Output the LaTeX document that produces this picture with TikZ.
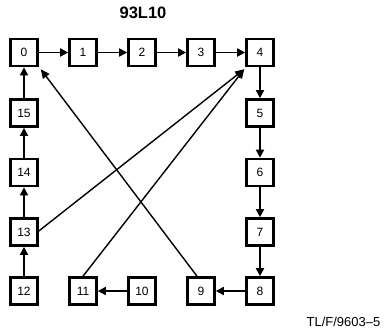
\documentclass[tikz,border=0pt]{standalone}
\usepackage{fontspec}
\setmainfont{Liberation Sans}
\usetikzlibrary{arrows.meta,calc}
\tikzset{
  box/.style={draw,line width=2.6pt,minimum size=27pt,inner sep=0pt,font=\fontsize{12}{12}\selectfont},
  arr/.style={line width=1.7pt,-{Triangle[length=8pt,width=8pt]}},
  darr/.style={line width=1.4pt,-{Triangle[length=9pt,width=8pt]}},
}
\begin{document}
\begin{tikzpicture}[x=1pt,y=-1pt]
\useasboundingbox (0,0) rectangle (389,331);
\node[font=\bfseries\fontsize{16.5}{16.5}\selectfont] (title) at (143,13) {93L10};
\node[font=\fontsize{13}{13}\selectfont] (cap) at (343.5,321.5) {TL/F/9603--5};
\node[box] (n0) at (24,52.5) {0};
\node[box] (n1) at (83,52.5) {1};
\node[box] (n2) at (142,52.5) {2};
\node[box] (n3) at (201,52.5) {3};
\node[box] (n4) at (260,52.5) {4};
\node[box] (n5) at (260,113) {5};
\node[box] (n6) at (260,172.5) {6};
\node[box] (n7) at (260,232) {7};
\node[box] (n8) at (260,291) {8};
\node[box] (n9) at (201,291) {9};
\node[box] (n10) at (142,291) {10};
\node[box] (n11) at (83,291) {11};
\node[box] (n12) at (24,291) {12};
\node[box] (n13) at (24,232) {13};
\node[box] (n14) at (24,172.5) {14};
\node[box] (n15) at (24,113) {15};
\draw[arr] (n0) -- (n1);
\draw[arr] (n1) -- (n2);
\draw[arr] (n2) -- (n3);
\draw[arr] (n3) -- (n4);
\draw[arr] (n4) -- (n5);
\draw[arr] (n5) -- (n6);
\draw[arr] (n6) -- (n7);
\draw[arr] (n7) -- (n8);
\draw[arr] (n8) -- (n9);
\draw[arr] (n10) -- (n11);
\draw[arr] (n12) -- (n13);
\draw[arr] (n13) -- (n14);
\draw[arr] (n14) -- (n15);
\draw[arr] (n15) -- (n0);
\coordinate (t0) at ($(n0.south east)+(2,2)$);
\coordinate (t4) at ($(n4.south west)+(-1,2)$);
\draw[darr] ($(n9.north)+(-4,0)$) -- (t0);
\draw[darr] ($(n13.east)+(0,-1)$) -- (t4);
\draw[darr] (n11.north) -- (t4);
\end{tikzpicture}
\end{document}
